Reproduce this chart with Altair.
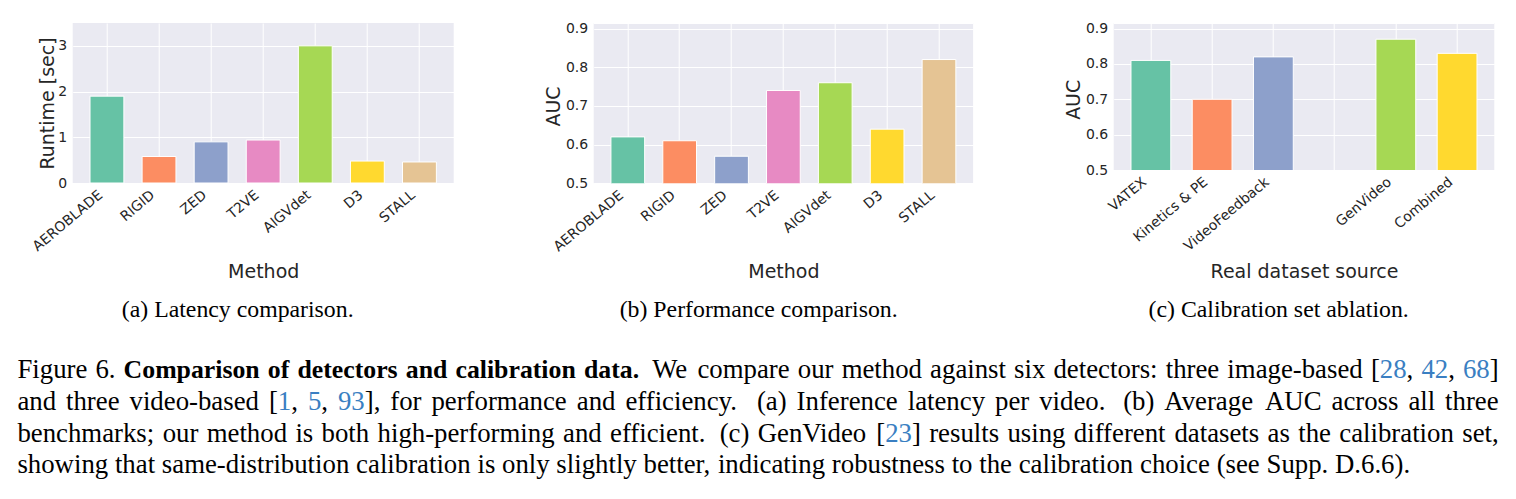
import altair as alt
import pandas as pd

# ---------------- data ----------------
METHODS = ["AEROBLADE", "RIGID", "ZED", "T2VE", "AIGVdet", "D3", "STALL"]
RUNTIME_SEC = [1.90, 0.58, 0.90, 0.94, 3.00, 0.48, 0.46]
AUC_MEAN = [0.62, 0.61, 0.57, 0.74, 0.76, 0.64, 0.82]

CALIB_SOURCES = ["VATEX", "Kinetics & PE", "VideoFeedback", "GenVideo", "Combined"]
CALIB_AUC = [0.81, 0.70, 0.82, 0.87, 0.83]
GAP_SLOT = " "  # empty slot separating real-data sources from GenVideo / Combined
CALIB_SLOTS = ["VATEX", "Kinetics & PE", "VideoFeedback", GAP_SLOT, "GenVideo", "Combined"]

SET2 = ["#66c2a5", "#fc8d62", "#8da0cb", "#e78ac3", "#a6d854", "#ffd92f", "#e5c494"]

SUBCAPTIONS = [
    "(a) Latency comparison.",
    "(b) Performance comparison.",
    "(c) Calibration set ablation.",
]

# caption runs: (text, kind); a double space marks an end-of-sentence gap
CAPTION_LINES = [
    [("Figure 6. ", "plain"),
     ("Comparison of detectors and calibration data.", "bold"),
     ("  We compare our method against six detectors: three image-based [", "plain"),
     ("28", "cite"), (", ", "plain"), ("42", "cite"), (", ", "plain"), ("68", "cite"), ("]", "plain")],
    [("and three video-based [", "plain"), ("1", "cite"), (", ", "plain"), ("5", "cite"),
     (", ", "plain"), ("93", "cite"),
     ("], for performance and efficiency.  (a) Inference latency per video.  (b) Average AUC across all three", "plain")],
    [("benchmarks; our method is both high-performing and efficient.  (c) GenVideo [", "plain"),
     ("23", "cite"), ("] results using different datasets as the calibration set,", "plain")],
    [("showing that same-distribution calibration is only slightly better, indicating robustness "
      "to the calibration choice (see Supp. D.6.6).", "plain")],
]
CAPTION_JUSTIFIED = [True, True, True, False]

# ---------------- styling / layout constants ----------------
BG = "#EAEAF2"
INK = "#262626"
SANS = "DejaVu Sans"
SERIF = "Liberation Serif"
CITE_BLUE = "#3a7fc2"
CAP_FS = 26.8
CAP_BOLD_FS = 25.8
SUB_FS = 23.8

ROW_TOP = 23.0        # page y shared by the panel origins
ORIGIN_X = 72.0       # page x of the first panel's plot area
TEXT_LEFT = 16.7      # page x where caption lines start
TEXT_RIGHT = 1498.0   # page x where justified caption lines end
XTITLE_BASE = 278.0   # page y of the x-axis title baselines
SUB_BASE = 316.7      # page y of the sub-caption baselines
ROW_BOTTOM = 305.0    # row extent below ROW_TOP reserved for the panels
CAP_TOP = ROW_TOP + ROW_BOTTOM


# ---------------- caption layout (Times metrics, 1/1000 em) ----------------
def _table(groups):
    t = {}
    for chars, w in groups:
        for ch in chars:
            t[ch] = w
    return t


ROMAN = _table([(" ,.", 250), ("ijlt:;", 278), ("fr()[]-I", 333), ("sJ", 389), ("acez", 444),
                ("bdghknopquvxy0123456789", 500), ("FPS", 556), ("ELTZ", 611), ("BCR", 667),
                ("ADGHKNOQUVXYw", 722), ("m", 778), ("M", 889), ("W", 944)])
BOLD = _table([(" ,.", 250), ("il", 278), ("tfj:()-", 333), ("s", 389), ("cer", 444),
               ("aogvxy", 500), ("bdhnpuqk", 556), ("C", 722), ("m", 833)])


def char_w(ch, kind):
    if kind == "bold":
        return BOLD.get(ch, 500) * CAP_BOLD_FS / 1000.0
    return ROMAN.get(ch, 500) * CAP_FS / 1000.0


def layout_line(runs, justify, x0, line_width, y):
    chars = [(ch, kind) for text, kind in runs for ch in text]
    words, gaps, cur, spaces = [], [], [], 0
    for ch, kind in chars:
        if ch == " ":
            spaces += 1
            continue
        if spaces and cur:
            words.append(cur)
            gaps.append(spaces)
            cur = []
        spaces = 0
        cur.append((ch, kind))
    if cur:
        words.append(cur)
    word_w = [sum(char_w(c, k) for c, k in w) for w in words]
    nat = [0.25 * CAP_FS if g == 1 else 0.36 * CAP_FS for g in gaps]
    weight = [1.0 if g == 1 else 2.5 for g in gaps]
    k = 0.0
    if justify:
        k = (line_width - sum(word_w) - sum(nat)) / sum(weight)
    rows, x = [], x0
    for i, w in enumerate(words):
        seg, seg_kind, seg_x, cx = "", None, x, x
        for c, kd in w:
            if kd != seg_kind and seg:
                rows.append({"seg": seg, "kind": seg_kind, "x": seg_x, "y": y})
                seg, seg_x = "", cx
            seg_kind = kd
            seg += c
            cx += char_w(c, kd)
        rows.append({"seg": seg, "kind": seg_kind, "x": seg_x, "y": y})
        x += word_w[i]
        if i < len(gaps):
            x += nat[i] + k * weight[i]
    return rows


cap_rows = []
for i, (runs, just) in enumerate(zip(CAPTION_LINES, CAPTION_JUSTIFIED)):
    cap_rows += layout_line(runs, just, TEXT_LEFT - ORIGIN_X, TEXT_RIGHT - TEXT_LEFT,
                            378.5 + 31.6 * i - CAP_TOP)
cap_df = pd.DataFrame(cap_rows)

cap_enc = dict(
    x=alt.X("x:Q", scale=None),
    y=alt.Y("y:Q", scale=None),
    text="seg:N",
    color=alt.condition("datum.kind == 'cite'", alt.value(CITE_BLUE), alt.value("black")),
)
cap_plain = alt.Chart(cap_df).transform_filter("datum.kind != 'bold'").mark_text(
    font=SERIF, fontSize=CAP_FS, align="left", baseline="alphabetic").encode(**cap_enc)
cap_bold = alt.Chart(cap_df).transform_filter("datum.kind == 'bold'").mark_text(
    font=SERIF, fontSize=CAP_BOLD_FS, fontWeight="bold", align="left", baseline="alphabetic"
).encode(**cap_enc)
caption = alt.layer(cap_plain, cap_bold).properties(
    width=1516 - ORIGIN_X - 1, height=499 - CAP_TOP - 1,
    view=alt.ViewBackground(fill="transparent", strokeWidth=0))


# ---------------- bar panels ----------------
def bar_panel(names, values, slots, colors, top, w, h, y_domain, y_ticks, y_fmt,
              y_title, title_dx, x_title, subcaption, pad_outer, extra=None):
    """Bar panel whose shaded plot area spans page y [top, top + h]."""
    lift = top - ROW_TOP                      # blank strip above the shaded area
    lo, hi = y_domain
    hi_ext = hi + lift * (hi - lo) / h
    full_h = h + lift
    df = pd.DataFrame({"name": names, "value": values})
    bars = alt.Chart(df).mark_bar(clip=True, stroke="white", strokeWidth=1).encode(
        x=alt.X("name:N", sort=slots,
                scale=alt.Scale(domain=slots, paddingInner=0.35, paddingOuter=pad_outer),
                axis=alt.Axis(title=x_title, bandPosition=0.5, grid=True, ticks=False, domain=False,
                              labelAngle=320, labelAlign="right", labelBaseline="alphabetic",
                              labelPadding=13, labelOffset=-3.5, labelOverlap=False,
                              titleY=XTITLE_BASE - (ROW_TOP + full_h), titleBaseline="alphabetic")),
        y=alt.Y("value:Q", scale=alt.Scale(domain=[lo, hi_ext], nice=False, zero=False),
                axis=alt.Axis(title=y_title, values=y_ticks, format=y_fmt, grid=True, ticks=False,
                              domain=False, labelPadding=6, titleAngle=270, titleAlign="center",
                              titleBaseline="alphabetic", titleX=title_dx, titleY=lift + h / 2)),
        color=alt.Color("name:N", scale=alt.Scale(domain=slots, range=colors), legend=None),
    )
    layers = [bars]
    if lift > 0:
        cover = alt.Chart(pd.DataFrame({"c": [0]})).mark_rect(color="white").encode(
            x=alt.value(0), x2=alt.value(w), y=alt.value(0), y2=alt.datum(hi))
        layers.append(cover)
    sub = alt.Chart(pd.DataFrame({"t": [subcaption]})).mark_text(
        font=SERIF, fontSize=SUB_FS, align="center", baseline="alphabetic", color="black"
    ).encode(text="t:N", x=alt.value(165), y=alt.value(SUB_BASE - ROW_TOP))
    layers.append(sub)
    layers += extra or []
    return alt.layer(*layers).properties(
        width=w, height=full_h, view=alt.ViewBackground(fill=BG, strokeWidth=0))


# transparent marker fixing the row's vertical extent
edge = alt.Chart(pd.DataFrame({"e": [0]})).mark_rule(opacity=0).encode(
    x=alt.value(-20), y=alt.value(-10), y2=alt.value(ROW_BOTTOM))

panel_a = bar_panel(METHODS, RUNTIME_SEC, METHODS, SET2, 23.0, 381, 160, [0, 3.5], [0, 1, 2, 3], "d",
                    "Runtime [sec]", -19.5, "Method", SUBCAPTIONS[0], 0.3325, extra=[edge])
panel_b = bar_panel(METHODS, AUC_MEAN, METHODS, SET2, 28.6, 379.4, 154.7, [0.5, 0.9],
                    [0.5, 0.6, 0.7, 0.8, 0.9], ".1f", "AUC", -34, "Method", SUBCAPTIONS[1], 0.3325)
panel_c = bar_panel(CALIB_SOURCES, CALIB_AUC, CALIB_SLOTS, SET2[:6], 28.6, 380.6, 141.4,
                    [0.5, 0.9], [0.5, 0.6, 0.7, 0.8, 0.9], ".1f", "AUC", -34,
                    "Real dataset source", SUBCAPTIONS[2], 0.2825)

row = alt.hconcat(panel_a, panel_b, panel_c, spacing=91)

chart = alt.vconcat(row, caption, spacing=0).properties(
    padding={"left": TEXT_LEFT, "top": ROW_TOP - 10, "right": 0, "bottom": 0}
).configure_axis(
    labelFont=SANS, titleFont=SANS, labelFontSize=14, titleFontSize=19,
    labelColor=INK, titleColor=INK, titleFontWeight="normal",
    gridColor="white", gridWidth=1, gridOpacity=1,
).configure_view(strokeWidth=0)

chart.save("out.html", embed_options={"renderer": "svg", "actions": False})
